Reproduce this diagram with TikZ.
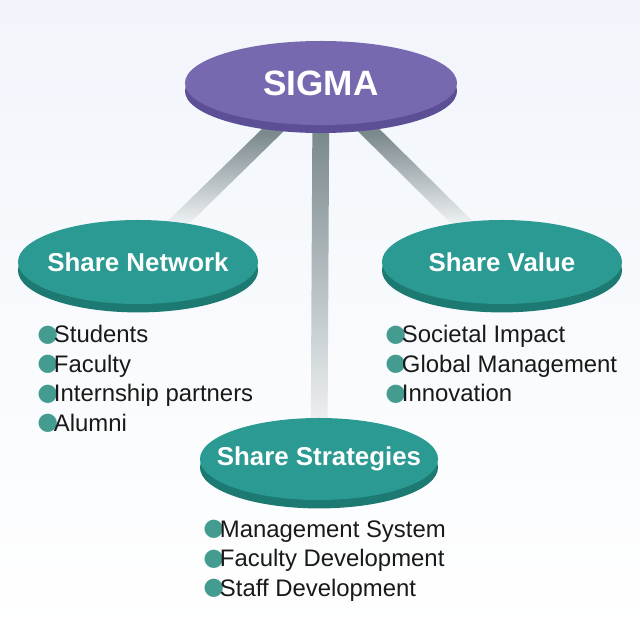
\documentclass[tikz,border=0pt]{standalone}
\usepackage{fontspec}
\setmainfont{Liberation Sans}
\newfontfamily\symfont{DejaVu Sans}
\usetikzlibrary{shapes.geometric, shadows, calc}

\definecolor{sigmatop}{HTML}{7868AF}
\definecolor{sigmarim}{HTML}{5D4F96}
\definecolor{tealtop}{HTML}{2A9A92}
\definecolor{tealrim}{HTML}{1D7A73}
\definecolor{bullet}{HTML}{449C90}
\definecolor{barlo}{HTML}{7C8A8E}
\definecolor{barhi}{HTML}{EDF0F3}
\definecolor{bgtop}{HTML}{F1F5FB}

\pgfdeclareverticalshading{diagbar}{100bp}{color(0bp)=(barhi); color(37bp)=(barhi); color(60bp)=(barlo); color(100bp)=(barlo)}
\pgfdeclareverticalshading{vertbar}{100bp}{color(0bp)=(barhi); color(30bp)=(barhi); color(68bp)=(barlo); color(100bp)=(barlo)}

\pgfdeclarelayer{bg}
\pgfdeclarelayer{bars}
\pgfsetlayers{bg,bars,main}

\tikzstyle{disk} = [
    ellipse,
    inner sep=0pt,
    text=white,
    font=\fontsize{18.4}{22}\selectfont\bfseries
]
\tikzstyle{topdisk} = [
    disk,
    fill=sigmatop,
    minimum width=6.8cm,
    minimum height=2.1cm,
    general shadow={fill=sigmarim, shadow yshift=-0.2cm},
    font=\fontsize{25}{30}\selectfont\bfseries
]
\tikzstyle{subdisk} = [
    disk,
    fill=tealtop,
    minimum width=6cm,
    minimum height=2.1cm,
    general shadow={fill=tealrim, shadow yshift=-0.21cm}
]
\tikzstyle{itemlist} = [
    anchor=north west,
    align=left,
    inner sep=0pt,
    text=black!90,
    font=\fontsize{17}{21}\selectfont
]

\newcommand{\disklabel}[1]{\makebox[0pt]{#1}}
\newcommand{\bul}{\raisebox{1pt}{\color{bullet}\symfont ●}\kern-3pt}
\newcommand{\connect}[3]{%
  \shade[shading=#1] ($(#2)!0.21cm!90:(#3)$) -- ($(#3)!0.21cm!-90:(#2)$)
    -- ($(#3)!0.21cm!90:(#2)$) -- ($(#2)!0.21cm!-90:(#3)$) -- cycle;}

\begin{document}
\begin{tikzpicture}[x=0.025cm, y=-0.025cm]

\useasboundingbox (0,0) rectangle (640,640);

\node (sigma) [topdisk] at (321,83) {\disklabel{SIGMA}};

\node (net) [subdisk] at (138,262) {\disklabel{Share Network}};

\node (value) [subdisk] at (502,262) {\disklabel{Share Value}};

\node (strat) [subdisk, minimum width=5.95cm, minimum height=2.05cm] at (319,459)
{\disklabel{Share Strategies}};

\node (netlist) [itemlist] at (37,325)
{\bul Students\\\bul Faculty\\\bul Internship partners\\\bul Alumni};

\node (valuelist) [itemlist] at (385,325)
{\bul Societal Impact\\\bul Global Management\\\bul Innovation};

\node (stratlist) [itemlist] at (203,520)
{\bul Management System\\\bul Faculty Development\\\bul Staff Development};

\begin{pgfonlayer}{bars}
\connect{diagbar}{sigma}{net}
\connect{diagbar}{sigma}{value}
\connect{vertbar}{sigma}{strat}
\end{pgfonlayer}

\begin{pgfonlayer}{bg}
\shade [top color=bgtop, bottom color=white] (0,0) rectangle (640,640);
\end{pgfonlayer}

\end{tikzpicture}
\end{document}
